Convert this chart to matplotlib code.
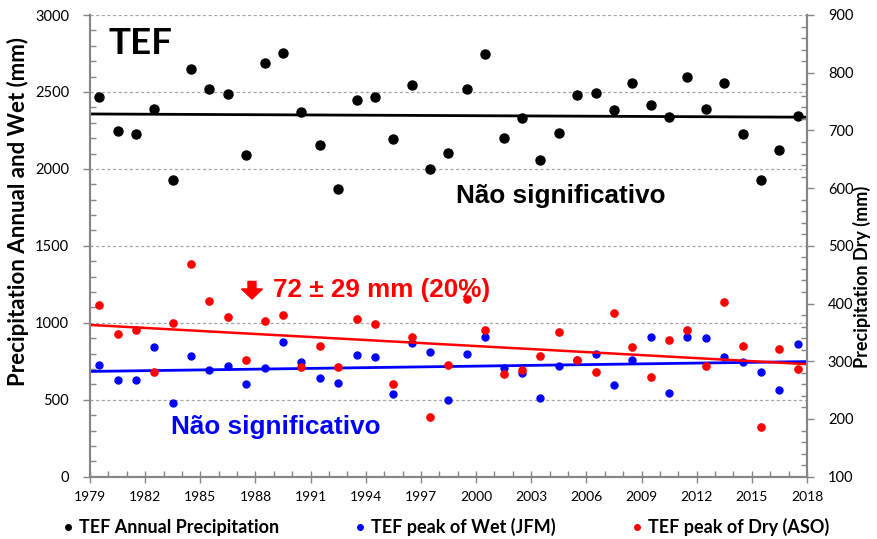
import matplotlib
matplotlib.use("Agg")
import matplotlib.pyplot as plt
from matplotlib.ticker import MultipleLocator
from matplotlib.lines import Line2D
from matplotlib.patches import Polygon
from matplotlib.transforms import Affine2D, ScaledTranslation
import numpy as np

years = list(range(1979, 2018))
annual = [2467, 2247, 2225, 2388, 1930, 2651, 2516, 2488, 2088, 2690,
          2755, 2371, 2156, 1869, 2449, 2467, 2193, 2545, 1997, 2104,
          2516, 2745, 2204, 2332, 2058, 2232, 2482, 2493, 2384, 2556,
          2416, 2338, 2599, 2390, 2556, 2225, 1930, 2125, 2345]
wet = [724, 628, 628, 845, 478, 785, 696, 717, 600, 707,
       874, 748, 639, 606, 791, 778, 539, 867, 813, 500,
       800, 906, 704, 671, 511, 717, 756, 795, 593, 756,
       906, 544, 906, 902, 780, 743, 683, 561, 863]
dry = [397, 348, 355, 282, 366, 468, 405, 376, 302, 370,
       381, 290, 326, 290, 373, 364, 261, 342, 204, 293,
       408, 354, 278, 285, 310, 351, 303, 281, 384, 325,
       272, 337, 354, 291, 403, 327, 186, 321, 287]
trend_x = [1979, 2018]
trend_annual = [2357, 2336]
trend_wet = [684, 748]
trend_dry = [363, 295]
xticks = list(range(1979, 2019, 3))

fam = ['Lato', 'DejaVu Sans']
afam = ['Liberation Sans', 'DejaVu Sans']
plt.rcParams['font.family'] = fam

fig = plt.figure(figsize=(8.78, 5.39), dpi=100)
ax = fig.add_axes([90/878, 1-476.7/539, (807-90)/878, (476.7-15)/539])
ax2 = ax.twinx()

xs = np.array(years) + 0.5
gray = '#868686'

ax.set_xlim(1979, 2018)
ax.set_ylim(0, 3000)
ax2.set_ylim(100, 900)

for v in range(500, 3001, 500):
    ax.axhline(v, color='#a6a6a6', lw=0.9, ls=(0, (2.5, 2)), zorder=0)

ax.plot(trend_x, trend_annual, color='black', lw=2, zorder=2)
ax.plot(trend_x, trend_wet, color='#0000ff', lw=2, zorder=2)
ax2.plot(trend_x, trend_dry, color='#ff0000', lw=1.8, zorder=2)

ax.plot(xs, annual, 'o', color='black', ms=6.5, ls='none', zorder=3)
ax.plot(xs, wet, 'o', color='#0000ff', ms=5, ls='none', zorder=3)
ax2.plot(xs, dry, 'o', color='#ff0000', ms=5.2, ls='none', zorder=3)

for a in (ax, ax2):
    a.spines['top'].set_visible(False)
    for s in ('left', 'right', 'bottom'):
        a.spines[s].set_color(gray)
        a.spines[s].set_linewidth(1.5)

ax.set_xticks(xticks)
ax.xaxis.set_minor_locator(MultipleLocator(1))
ax.yaxis.set_major_locator(MultipleLocator(500))
ax.yaxis.set_minor_locator(MultipleLocator(100))
ax2.yaxis.set_major_locator(MultipleLocator(100))
ax2.yaxis.set_minor_locator(MultipleLocator(20))

ax.tick_params(axis='x', which='major', direction='inout', length=8, width=1, color=gray,
               labelsize=10, pad=6)
ax.tick_params(axis='x', which='minor', direction='in', length=4, width=1, color=gray)
ax.tick_params(axis='y', which='major', direction='out', length=5, width=1, color=gray,
               labelsize=10.5, pad=10)
ax.tick_params(axis='y', which='minor', direction='in', length=4, width=1, color=gray)
ax2.tick_params(axis='y', which='major', direction='out', length=5, width=1, color=gray,
                labelsize=10.5, pad=10)
ax2.tick_params(axis='y', which='minor', direction='in', length=4, width=1, color=gray)

fig.text(18/878, 1-212/539, 'Precipitation Annual and Wet (mm)', rotation=90,
         ha='center', va='center', fontsize=16, fontweight='bold')
fig.text(862/878, 1-277/539, 'Precipitation Dry (mm)', rotation=90,
         ha='center', va='center', fontsize=13, fontweight='bold')

ax.text(1980.0, 2813, 'TEF', fontsize=26.5, fontweight='bold', ha='left', va='center')
ax.text(2004.6, 1823, 'Não significativo', fontsize=18.8, fontweight='bold',
        ha='center', va='center', family=afam, color='black')
ax.text(1989.1, 324, 'Não significativo', fontsize=18.8, fontweight='bold',
        ha='center', va='center', family=afam, color='#0000ff')
ax.text(1988.95, 1210, '72 ± 29 mm (20%)', fontsize=18.8, fontweight='bold',
        ha='left', va='center', family=afam, color='#ff0000')

# down arrow (shape in pixels, anchored at its tip)
arrow_shape = [(0, 0), (-10.5, 10), (-4, 10), (-4, 17.5), (4, 17.5), (4, 10), (10.5, 10)]
arrow_tr = Affine2D() + ScaledTranslation(1987.81, 1155, ax.transData)
ax.add_patch(Polygon(arrow_shape, closed=True, color='#ff0000', transform=arrow_tr,
                     clip_on=False, zorder=4))

handles = [Line2D([], [], marker='o', ls='none', color='black', ms=4),
           Line2D([], [], marker='o', ls='none', color='#0000ff', ms=4),
           Line2D([], [], marker='o', ls='none', color='#ff0000', ms=4)]
labels = ['TEF Annual Precipitation', 'TEF peak of Wet (JFM)', 'TEF peak of Dry (ASO)']
leg = fig.legend(handles, labels, loc='center', bbox_to_anchor=(444/878, 1-527/539),
                 ncol=3, frameon=False, handletextpad=0.1, handlelength=1.0,
                 columnspacing=4.0, prop=dict(family=fam, weight='bold', size=13))

fig.savefig('out.png', dpi=100)
